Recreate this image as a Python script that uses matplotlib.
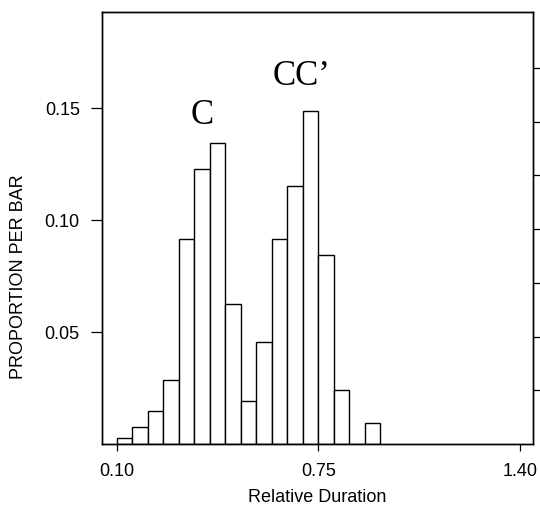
import matplotlib
matplotlib.use("Agg")
import matplotlib.pyplot as plt

# Data
bin_left = [0.10, 0.15, 0.20, 0.25, 0.30, 0.35, 0.40, 0.45, 0.50, 0.55,
            0.60, 0.65, 0.70, 0.75, 0.80, 0.85, 0.90]
proportion = [0.0027, 0.0074, 0.0146, 0.0284, 0.0915, 0.1228, 0.1346, 0.0623,
              0.0190, 0.0454, 0.0915, 0.1153, 0.1489, 0.0842, 0.0239, 0.0, 0.0096]
bin_width = 0.05
x_ticks = [0.10, 0.75, 1.40]
x_tick_labels = ["0.10", "0.75", "1.40"]
y_ticks = [0.05, 0.10, 0.15]
y_tick_labels = ["0.05", "0.10", "0.15"]
right_ticks = [0.024, 0.048, 0.072, 0.096, 0.120, 0.144, 0.168]

sans = ["Liberation Sans", "DejaVu Sans"]
serif = ["Liberation Serif", "DejaVu Serif"]

fig = plt.figure(figsize=(5.40, 5.14), dpi=100)
ax = fig.add_axes([102/540, 1 - 444/514, (533-102)/540, (444-12)/514])

ax.bar(bin_left, proportion, width=bin_width, align="edge",
       facecolor="white", edgecolor="black", linewidth=1.0)

ax.set_xlim(0.0526, 1.442)
ax.set_ylim(0, 0.1929)

ax.set_xticks(x_ticks)
ax.set_xticklabels(x_tick_labels, family=sans, fontsize=13)
ax.set_yticks(y_ticks)
ax.set_yticklabels(y_tick_labels, family=sans, fontsize=13)
ax.tick_params(axis="x", direction="out", length=5, width=0.9, pad=9)
ax.tick_params(axis="y", direction="out", length=8, width=0.9, pad=8)

for s in ax.spines.values():
    s.set_linewidth(1.0)

ax2 = ax.twinx()
ax2.set_ylim(ax.get_ylim())
ax2.set_yticks(right_ticks)
ax2.set_yticklabels([""] * len(right_ticks))
ax2.tick_params(axis="y", direction="out", length=5, width=0.9)
for s in ax2.spines.values():
    s.set_linewidth(1.0)

fig.text(317.5/540, 1 - 498/514, "Relative Duration", family=sans, fontsize=13,
         ha="center", va="center")
fig.text(19/540, 1 - 277/514, "PROPORTION PER BAR", family=sans, fontsize=13,
         ha="center", va="center", rotation=90)

ax.text(0.375, 0.1468, "C", family=serif, fontsize=25, ha="center", va="center")
ax.text(0.695, 0.1640, "CC\u2019", family=serif, fontsize=25, ha="center", va="center")

fig.savefig("out.png", dpi=100)
